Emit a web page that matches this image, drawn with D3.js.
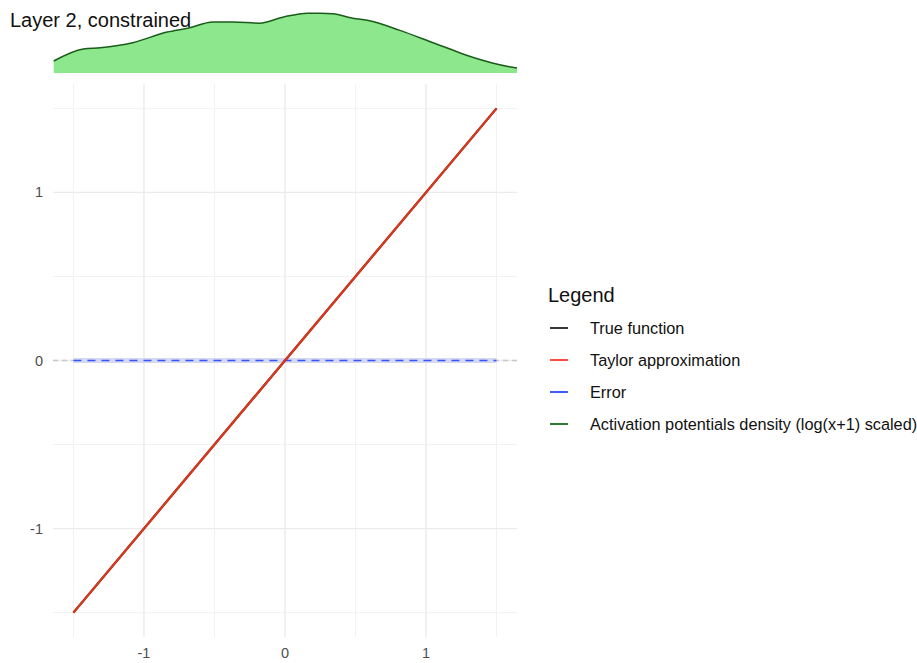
<!DOCTYPE html>
<html>
<head>
<meta charset="utf-8">
<script src="https://cdn.jsdelivr.net/npm/d3@7"></script>
<style>
  body { margin: 0; background: #fff; }
  svg { font-family: "Liberation Sans", Arial, sans-serif; }
</style>
</head>
<body>
<svg id="chart" width="917" height="663"></svg>
<script>
// Function range on the input axis
const xRange = [-1.5, 1.5];
// True function and its Taylor approximation (identity, endpoints)
const trueFn = [[-1.5, -1.5], [1.5, 1.5]];
const taylorFn = [[-1.5, -1.5], [1.5, 1.5]];
// Error of the approximation
const errorFn = [[-1.5, 0], [1.5, 0]];

// Activation potentials density, log(x+1) scaled
const densX = [-1.64, -1.43, -1.31, -1.08, -0.835, -0.69, -0.51, -0.37, -0.18, -0.01, 0.16, 0.25, 0.34, 0.48, 0.60, 0.81, 1.05, 1.17, 1.33, 1.47, 1.59, 1.645];
const densY = [0.19, 0.38, 0.40, 0.48, 0.65, 0.71, 0.81, 0.81, 0.79, 0.89, 0.95, 0.95, 0.94, 0.87, 0.83, 0.68, 0.48, 0.38, 0.25, 0.16, 0.10, 0.08];

const xTicks = [-1, 0, 1];
const yTicks = [-1, 0, 1];
const xMinor = [-1.5, -0.5, 0.5, 1.5];
const yMinor = [-1.5, -0.5, 0.5, 1.5];

const legendLabels = ["True function", "Taylor approximation", "Error", "Activation potentials density (log(x+1) scaled)"];
const legendColors = ["#222222", "#ff3b2f", "#2b4cff", "#1a6b1a"];

const svg = d3.select("#chart");

const x = d3.scaleLinear().domain([-1.645, 1.645]).range([53, 517]);
const y = d3.scaleLinear().domain([-1.645, 1.645]).range([637, 84]);

const grid = svg.append("g");
const gridColor = "#ebebeb";
grid.selectAll(".vmin").data(xMinor).join("line")
  .attr("x1", d => x(d)).attr("x2", d => x(d))
  .attr("y1", y.range()[1]).attr("y2", y.range()[0])
  .attr("stroke", "#f2f2f2").attr("stroke-width", 1);
grid.selectAll(".hmin").data(yMinor).join("line")
  .attr("y1", d => y(d)).attr("y2", d => y(d))
  .attr("x1", x.range()[0]).attr("x2", x.range()[1])
  .attr("stroke", "#f2f2f2").attr("stroke-width", 1);
grid.selectAll(".vmaj").data(xTicks).join("line")
  .attr("x1", d => x(d)).attr("x2", d => x(d))
  .attr("y1", y.range()[1]).attr("y2", y.range()[0])
  .attr("stroke", gridColor).attr("stroke-width", 1.4);
grid.selectAll(".hmaj").data(yTicks).join("line")
  .attr("y1", d => y(d)).attr("y2", d => y(d))
  .attr("x1", x.range()[0]).attr("x2", x.range()[1])
  .attr("stroke", gridColor).attr("stroke-width", 1.4);

// Reference line at zero
svg.append("line")
  .attr("x1", x.range()[0]).attr("x2", x.range()[1])
  .attr("y1", y(0)).attr("y2", y(0))
  .attr("stroke", "#c8c8c8").attr("stroke-width", 1.6)
  .attr("stroke-dasharray", "5,4");

const line = d3.line().x(d => x(d[0])).y(d => y(d[1]));

// Error band and dashed error line
svg.append("path").datum(errorFn).attr("d", line)
  .attr("fill", "none").attr("stroke", "#d6d8f0").attr("stroke-width", 5);
svg.append("path").datum(errorFn).attr("d", line)
  .attr("fill", "none").attr("stroke", "#3355ff").attr("stroke-width", 1.6)
  .attr("stroke-dasharray", "8,6");

svg.append("path").datum(trueFn).attr("d", line)
  .attr("fill", "none").attr("stroke", "#222").attr("stroke-width", 2.2);
svg.append("path").datum(taylorFn).attr("d", line)
  .attr("fill", "none").attr("stroke", "#e0361a").attr("stroke-width", 2.2);

// Axes labels
const tickFmt = d => d < 0 ? "-" + Math.abs(d) : String(d);
svg.selectAll(".xl").data(xTicks).join("text")
  .attr("x", d => x(d)).attr("y", 658).attr("text-anchor", "middle")
  .attr("font-size", 14.5).attr("fill", "#4d4d4d")
  .text(tickFmt);
svg.selectAll(".yl").data(yTicks).join("text")
  .attr("x", 43).attr("y", d => y(d) + 5).attr("text-anchor", "end")
  .attr("font-size", 14.5).attr("fill", "#4d4d4d")
  .text(tickFmt);

// Density strip on top
const dx = d3.scaleLinear().domain([-1.645, 1.645]).range([53, 517]);
const dy = d3.scaleLinear().domain([0, 1]).range([73, 10]);
const densData = densX.map((v, i) => [v, densY[i]]);
svg.append("path").datum(densData)
  .attr("d", d3.area().x(d => dx(d[0])).y0(dy(0)).y1(d => dy(d[1])).curve(d3.curveMonotoneX))
  .attr("fill", "#8de88d");
svg.append("path").datum(densData)
  .attr("d", d3.line().x(d => dx(d[0])).y(d => dy(d[1])).curve(d3.curveMonotoneX))
  .attr("fill", "none").attr("stroke", "#1a5c1a").attr("stroke-width", 1.5);

svg.append("text").attr("x", 10).attr("y", 27)
  .attr("font-size", 20).attr("fill", "#111").text("Layer 2, constrained");

// Legend
const lg = svg.append("g").attr("transform", "translate(548,0)");
lg.append("text").attr("x", 0).attr("y", 302).attr("font-size", 20).attr("fill", "#111").text("Legend");
const items = lg.selectAll(".it").data(legendLabels).join("g")
  .attr("transform", (d, i) => `translate(0,${328 + i * 32})`);
items.append("line").attr("x1", 2).attr("x2", 20).attr("y1", 0).attr("y2", 0)
  .attr("stroke", (d, i) => legendColors[i]).attr("stroke-width", 1.8);
items.append("text").attr("x", 42).attr("y", 5.5).attr("font-size", 16.3).attr("fill", "#111").text(d => d);
</script>
</body>
</html>
